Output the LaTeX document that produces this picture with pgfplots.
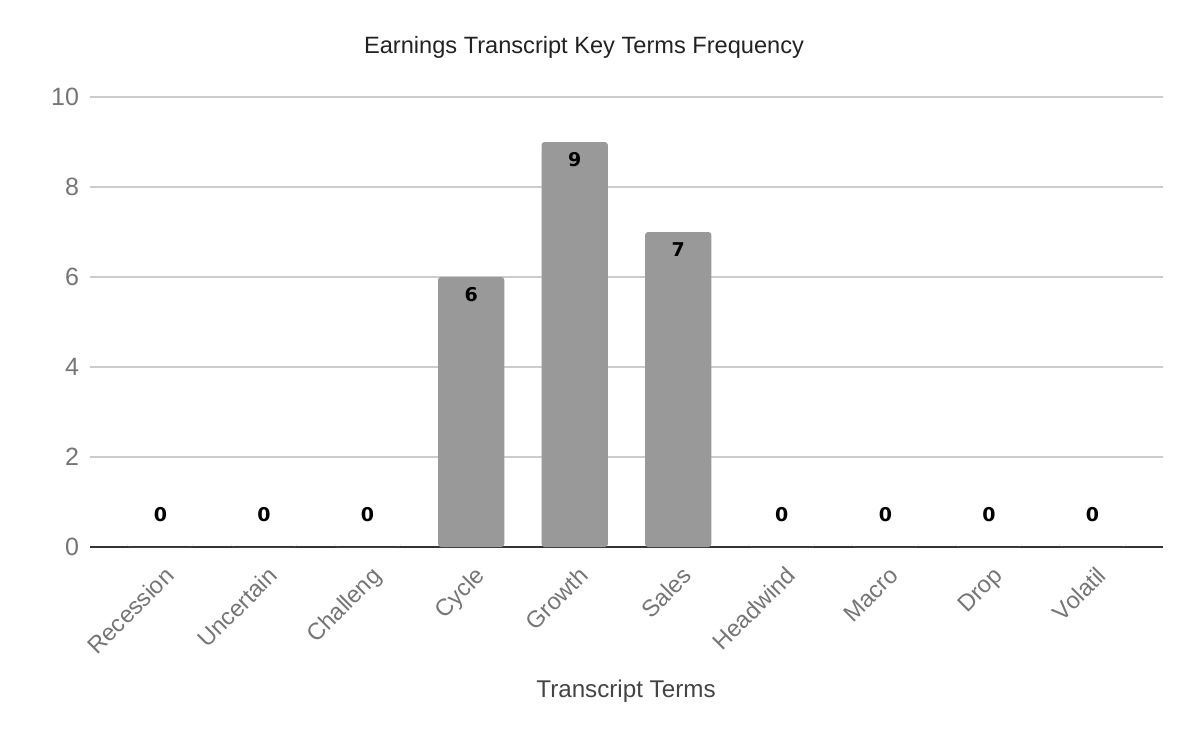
\documentclass[border=0pt]{standalone}
\usepackage{pgfplots}
\pgfplotsset{compat=1.18}
\usepackage{fontspec}
\setmainfont{Liberation Sans}
\newfontfamily\labelfont{DejaVu Sans}
\definecolor{barc}{HTML}{999999}
\definecolor{tickc}{HTML}{757575}
\definecolor{gridc}{HTML}{CCCCCC}
\definecolor{titlec}{HTML}{222222}
\definecolor{axtc}{HTML}{444444}
\begin{document}
\begin{tikzpicture}
\path[use as bounding box] (0pt,0pt) rectangle (600pt,370.5pt);
\begin{axis}[
  at={(45pt,97pt)}, anchor=south west,
  scale only axis, width=536.5pt, height=225pt,
  xmin=-0.68, xmax=9.68, ymin=0, ymax=10,
  axis line style={draw=none},
  ytick={0,2,4,6,8,10},
  ymajorgrids, grid style={gridc, line width=0.8pt},
  extra y ticks={0}, extra y tick labels={},
  extra y tick style={grid style={black!80, line width=1pt}},
  yticklabel style={font=\fontsize{12.5}{14}\selectfont, text=tickc, xshift=-2pt},
  /pgf/number format/assume math mode=true,
  xtick={0,...,9},
  xticklabels={Recession,Uncertain,Challeng,Cycle,Growth,Sales,Headwind,Macro,Drop,Volatil},
  xticklabel style={font=\fontsize{11.8}{13}\selectfont, text=tickc, rotate=45, anchor=north east, xshift=-2pt, yshift=-4pt},
  major tick length=0pt,
  clip=false,
]
\addplot[ybar, bar width=0.64, fill=barc, draw=none, rounded corners=1.5pt] coordinates {
 (0,0) (1,0) (2,0) (3,6) (4,9) (5,7) (6,0) (7,0) (8,0) (9,0)};
\addplot[only marks, mark=none, point meta=explicit symbolic,
  nodes near coords, nodes near coords align={center},
  every node near coord/.append style={font=\labelfont\bfseries\fontsize{9.5}{10}\selectfont, text=black, anchor=center}]
 coordinates {
 (0,0.72)[0] (1,0.72)[0] (2,0.72)[0] (3,5.62)[6] (4,8.62)[9] (5,6.62)[7] (6,0.72)[0] (7,0.72)[0] (8,0.72)[0] (9,0.72)[0]};
\end{axis}
\node[font=\fontsize{11.8}{13}\selectfont, text=titlec] at (292pt,347pt) {Earnings Transcript Key Terms Frequency};
\node[font=\fontsize{12.1}{14}\selectfont, text=axtc] at (313pt,25pt) {Transcript Terms};
\end{tikzpicture}
\end{document}
